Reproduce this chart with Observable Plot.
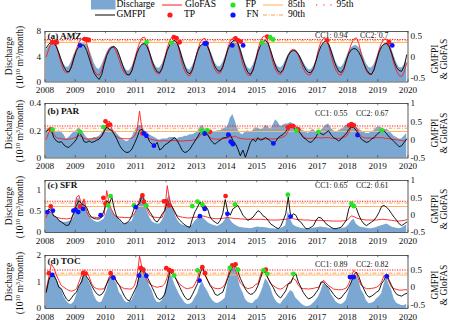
<!DOCTYPE html>
<html><head><meta charset="utf-8">
<script src="https://cdn.jsdelivr.net/npm/d3@7"></script>
<script src="https://cdn.jsdelivr.net/npm/@observablehq/plot@0.6"></script>
<style>
body{margin:0;background:#fff;font-family:"Liberation Serif","Times New Roman",serif;}
#wrap{position:relative;width:450px;height:322px;overflow:hidden;background:#fff;}
.abs{position:absolute;white-space:nowrap;font-size:9.5px;line-height:1;color:#111;}
.rot{transform:translate(-50%,-50%) rotate(-90deg);}
sup{font-size:70%;line-height:0;vertical-align:0.45em;}
.leg{position:absolute;font-size:9.5px;line-height:1;transform:translateY(-50%);white-space:nowrap;}
svg.pl{position:absolute;left:0;}
</style></head><body><div id="wrap"></div>
<script>
// ---------------- DATA ----------------
const yearTicks = [2008,2009,2010,2011,2012,2013,2014,2015,2016,2017,2018,2019,2020];
const basins = ["(a) AMZ","(b) PAR","(c) SFR","(d) TOC"];
const cc1 = ["0.94","0.55","0.65","0.89"];
const cc2 = ["0.7","0.67","0.61","0.82"];

// AMZ monthly (2008-2019): discharge (10^10 m3/month), GMFPI, GloFAS
const amzQ = [
5.0,5.6,6.0,6.2,5.9,5.0,3.8,2.8,2.3,2.4,3.2,4.3,
5.0,5.6,5.9,6.1,6.0,5.3,4.2,3.0,2.2,2.0,2.6,3.6,
4.6,5.3,5.6,5.7,5.3,4.6,3.4,2.4,1.8,1.8,2.4,3.4,
4.6,5.4,5.9,6.1,5.9,5.1,3.9,2.8,2.2,2.2,2.8,3.9,
5.0,5.7,6.2,6.5,6.3,5.6,4.3,3.0,2.1,1.9,2.5,3.5,
4.7,5.5,5.9,6.1,5.9,5.2,4.1,3.0,2.4,2.4,3.0,4.0,
5.0,5.8,6.3,6.6,6.4,5.6,4.3,3.0,2.2,2.0,2.6,3.6,
4.8,5.6,6.1,6.4,6.2,5.4,4.1,3.0,2.4,2.2,2.6,3.5,
4.3,4.8,5.0,5.0,4.6,4.0,3.2,2.5,2.0,1.9,2.4,3.3,
4.6,5.5,6.1,6.4,6.2,5.5,4.3,3.1,2.4,2.3,2.8,3.8,
4.8,5.4,5.7,5.8,5.5,4.9,3.9,2.9,2.3,2.2,2.7,3.7,
4.8,5.6,6.0,6.2,6.0,5.3,4.1,3.0,2.3,2.2,2.7,3.8];
const amzG = [
.21,.30,.345,.33,.24,.09,-.09,-.24,-.345,-.36,-.24,-.03,
.15,.255,.285,.27,.15,-.03,-.225,-.39,-.48,-.54,-.42,-.18,
.03,.15,.225,.24,.18,.03,-.15,-.315,-.42,-.435,-.33,-.12,
.09,.225,.30,.315,.24,.09,-.105,-.255,-.36,-.375,-.27,-.06,
.15,.285,.36,.39,.315,.15,-.06,-.24,-.375,-.405,-.30,-.09,
.12,.255,.30,.315,.24,.09,-.09,-.24,-.33,-.345,-.24,-.045,
.165,.30,.375,.405,.33,.15,-.06,-.24,-.375,-.42,-.315,-.105,
.12,.27,.36,.39,.315,.15,-.045,-.225,-.345,-.375,-.30,-.12,
.03,.12,.15,.135,.06,-.06,-.195,-.315,-.375,-.375,-.285,-.105,
.105,.255,.345,.375,.30,.135,-.06,-.225,-.345,-.375,-.285,-.09,
.075,.165,.195,.18,.105,-.015,-.165,-.30,-.39,-.42,-.315,-.105,
.105,.24,.30,.315,.24,.09,-.105,-.255,-.33,-.345,-.225,.045];
const amzF = [
0,.18,.33,.375,.27,.045,-.18,-.33,-.39,-.36,-.21,0,
.195,.345,.42,.45,.33,.09,-.15,-.33,-.42,-.435,-.33,-.12,
.06,.195,.24,.21,.09,-.09,-.27,-.39,-.435,-.42,-.30,-.06,
.15,.33,.45,.465,.33,.075,-.165,-.33,-.405,-.405,-.27,-.03,
.21,.39,.48,.495,.345,.075,-.18,-.345,-.435,-.45,-.33,-.09,
.15,.33,.42,.435,.30,.06,-.165,-.315,-.39,-.39,-.27,-.03,
.21,.375,.45,.45,.30,.06,-.18,-.345,-.435,-.45,-.33,-.09,
.18,.375,.48,.495,.345,.09,-.15,-.315,-.405,-.42,-.33,-.15,
.03,.15,.18,.15,.03,-.135,-.285,-.39,-.435,-.42,-.30,-.075,
.18,.36,.435,.42,.27,.03,-.18,-.33,-.42,-.435,-.33,-.12,
.12,.30,.42,.45,.315,.06,-.18,-.345,-.42,-.42,-.30,-.06,
.165,.33,.42,.42,.285,.045,-.18,-.345,-.45,-.465,-.36,-.15];
const amzTP = [[2008.24,.345],[2008.32,.34],[2008.39,.34],[2009.31,.42],[2009.38,.41],[2009.45,.40],[2012.26,.465],[2012.35,.44],[2012.45,.345],[2014.3,.435],[2014.38,.39],[2014.47,.36],[2015.35,.48],[2017.33,.39],[2019.37,.345]];
const amzFP = [[2011.36,.345],[2012.18,.33],[2015.18,.33],[2015.44,.465],[2015.54,.41]];
const amzFN = [[2009.16,.27],[2013.28,.315],[2013.34,.315],[2014.19,.27],[2014.55,.27],[2019.48,.27]];
const amzThr = [.34,.38,.41]; // 85th, 90th, 95th

// PAR
const parQ = [
.20,.22,.20,.21,.19,.20,.19,.17,.14,.15,.17,.19,
.20,.22,.20,.18,.15,.14,.14,.15,.15,.16,.18,.21,
.23,.22,.21,.20,.18,.16,.14,.13,.12,.13,.15,.19,
.22,.24,.23,.20,.19,.17,.16,.15,.14,.13,.14,.14,
.14,.15,.15,.15,.14,.15,.15,.16,.16,.17,.17,.18,
.19,.22,.24,.21,.20,.19,.19,.19,.20,.20,.21,.22,
.23,.29,.32,.27,.21,.18,.17,.19,.20,.19,.20,.22,
.22,.21,.21,.24,.23,.21,.24,.28,.26,.23,.24,.25,
.25,.26,.25,.23,.22,.21,.20,.19,.18,.20,.21,.19,
.19,.20,.22,.24,.25,.22,.20,.19,.20,.21,.22,.24,
.24,.26,.25,.23,.21,.20,.19,.18,.18,.19,.20,.22,
.23,.22,.21,.21,.20,.18,.16,.15,.14,.14,.16,.18];
const parG = [
.23,.29,.26,.06,-.03,-.07,-.05,-.14,-.19,-.21,-.14,-.07,
.02,.22,.11,-.05,-.07,-.03,-.07,-.05,-.01,.02,.11,.25,
.35,.29,.25,.15,.02,-.14,-.25,-.32,-.35,-.33,-.25,-.10,
.06,.26,.29,.18,.11,-.05,-.12,-.16,-.07,-.28,-.23,-.14,
-.10,-.05,.02,.06,-.03,-.16,-.30,-.35,-.32,-.25,-.14,-.03,
.08,.20,.22,.23,.15,.02,-.07,-.12,-.05,-.01,.05,.06,
.08,.14,-.01,-.10,-.25,-.44,-.28,-.48,-.28,-.07,.02,-.05,
.06,-.01,.02,.06,.02,-.03,-.10,-.05,.06,.11,.15,.23,
.32,.35,.34,.26,.25,.17,.06,.02,-.05,-.07,-.01,.08,
.22,.17,.14,.20,.25,.14,.06,.02,-.03,.02,.11,.17,
.29,.35,.34,.25,.13,.02,-.03,-.07,-.05,.02,.06,.14,
.20,.26,.25,.17,.08,.02,-.05,-.12,-.19,-.16,-.07,.02];
const parF = [
.02,.20,.29,.15,.06,.04,.03,.02,.01,.02,.03,.05,
.08,.12,.09,.04,.02,.02,.03,.03,.04,.06,.10,.20,
.45,.52,.30,.15,.08,.05,.04,.03,.03,.03,.05,.10,
.25,.79,.28,.12,.06,.03,.01,-.01,-.02,-.03,-.03,-.02,
-.03,-.03,-.02,-.02,-.03,-.03,-.03,-.03,-.02,-.02,-.01,0,
.04,.12,.20,.20,.12,.06,.03,.02,.02,.02,.03,.04,
.05,.07,.08,.10,.06,.04,.03,.02,.02,.02,.02,.03,
.02,.02,.02,.03,.02,.03,.02,.03,.04,.06,.08,.12,
.25,.38,.43,.38,.25,.15,.08,.05,.04,.04,.05,.06,
.06,.05,.06,.06,.06,.05,.04,.04,.04,.05,.07,.10,
.20,.38,.43,.33,.18,.10,.06,.05,.05,.05,.05,.06,
.06,.06,.05,.04,.03,.02,.01,0,-.01,-.02,-.03,.02];
const parTP = [[2008.19,.29],[2010.0,.51],[2010.08,.40],[2010.15,.42],[2011.22,.18],[2013.45,.22],[2016.03,.34],[2016.12,.38],[2016.2,.38],[2016.37,.29],[2018.05,.40],[2018.13,.43],[2018.21,.40]];
const parFP = [[2008.25,.28],[2009.16,.22],[2009.93,.35],[2013.18,.25],[2013.37,.26],[2016.31,.25],[2017.04,.22],[2019.13,.26]];
const parFN = [[2011.27,.18],[2011.35,.11],[2011.6,-.16],[2013.28,.17],[2014.06,.14],[2014.14,-.05],[2014.21,-.12],[2015.55,-.10],[2018.33,.13]];
const parThr = [.23,.32,.38];

// SFR
const sfrQ = [
.48,.50,.44,.40,.34,.30,.26,.24,.24,.26,.28,.36,
.76,.82,.56,.76,.55,.40,.32,.27,.24,.24,.28,.32,
.48,.64,.52,.44,.36,.30,.22,.20,.22,.24,.26,.40,
.56,.76,.84,.72,.50,.36,.26,.22,.20,.20,.28,.40,
.80,.88,.62,.45,.30,.22,.18,.16,.14,.13,.18,.26,
.32,.40,.36,.30,.24,.20,.18,.16,.14,.18,.22,.30,
.40,.30,.22,.18,.14,.12,.11,.10,.10,.09,.10,.12,
.13,.12,.12,.11,.10,.09,.09,.08,.08,.10,.12,.16,
.50,.30,.18,.14,.12,.10,.09,.08,.08,.09,.10,.11,
.12,.13,.12,.11,.10,.09,.09,.08,.08,.09,.10,.12,
.18,.26,.32,.20,.15,.12,.11,.10,.09,.09,.10,.12,
.14,.16,.18,.20,.17,.13,.11,.10,.09,.10,.14,.18];
const sfrG = [
.04,.18,.13,-.02,-.06,-.15,-.20,-.25,-.30,-.28,-.11,.10,
.28,.42,.33,.28,.23,.04,-.06,-.10,-.11,-.11,-.05,.15,
.42,.33,.52,.18,-.06,-.11,-.20,-.25,-.22,-.15,0,.23,
.28,.33,.57,.38,.23,.10,-.01,-.15,-.20,-.10,.04,.13,
.38,.33,.23,.10,-.06,-.15,-.22,-.28,-.33,-.35,-.10,.10,
.23,.38,.20,.28,.18,-.05,-.15,-.20,-.25,-.15,.04,.45,
.10,0,.18,.23,.28,.15,0,-.08,-.15,-.11,-.06,.04,
.13,.08,-.02,-.06,-.15,-.25,-.30,-.35,-.39,-.32,-.15,.04,
.52,-.06,.04,0,-.15,-.20,-.30,-.39,-.39,-.35,-.30,-.15,
-.06,-.08,-.15,-.25,-.30,-.35,-.39,-.39,-.37,-.35,-.25,-.15,
.18,.33,.28,.20,0,-.15,-.25,-.30,-.25,-.20,-.15,-.05,
.08,.25,.28,.23,.15,.04,-.06,-.15,-.25,-.30,-.25,-.20];
const sfrF = [
-.06,.13,.05,-.02,-.06,-.08,-.10,-.10,-.11,-.10,-.08,.05,
.52,.57,.28,.47,.10,-.04,-.06,-.06,-.07,-.07,-.06,0,
.71,.30,.15,0,-.04,-.06,-.06,-.07,-.07,-.07,-.05,.05,
.20,.45,.62,.45,.15,0,-.04,-.06,-.07,-.07,-.06,.15,
.85,.40,.23,.06,-.02,-.04,-.06,-.07,-.08,-.08,-.07,-.06,
-.06,-.03,-.02,-.04,-.06,-.08,-.09,-.10,-.10,-.10,-.09,-.08,
-.06,-.08,-.09,-.10,-.10,-.11,-.11,-.12,-.12,-.12,-.12,-.12,
-.12,-.12,-.12,-.13,-.13,-.14,-.14,-.14,-.14,-.13,-.13,-.12,
-.10,-.05,-.10,-.12,-.13,-.13,-.14,-.14,-.14,-.15,-.15,-.15,
-.15,-.15,-.16,-.16,-.16,-.17,-.17,-.17,-.17,-.17,-.16,-.16,
-.10,-.02,-.04,-.08,-.10,-.12,-.13,-.14,-.14,-.14,-.14,-.14,
-.13,-.12,-.12,-.13,-.14,-.15,-.16,-.17,-.17,-.16,-.15,-.13];
const sfrTP = [[2008.19,.25],[2009.16,.25],[2009.93,.50],[2010.0,.33],[2011.22,.57],[2011.27,.38],[2011.93,.40],[2012.01,.40],[2012.1,.28],[2013.97,.55]];
const sfrFP = [[2010.09,.28],[2010.17,.55],[2010.94,.28],[2011.35,.28],[2012.87,.26],[2013.04,.39],[2013.2,.31],[2014.28,.31],[2016.03,.59],[2018.13,.33],[2018.21,.26]];
const sfrFN = [[2008.08,.09],[2008.26,.13],[2008.94,.13],[2009.01,.15],[2009.1,.09],[2009.26,.18],[2009.84,0],[2011.0,.23],[2013.12,-.03],[2013.28,.18],[2014.03,.04],[2016.12,-.04]];
const sfrThr = [.25,.35,.40];

// TOC
const tocQ = [
.74,1.10,1.25,1.31,1.18,.90,.74,.45,.28,.18,.15,.24,
.49,.75,1.06,1.33,1.25,1.00,.80,.50,.30,.22,.24,.45,
.68,1.06,1.25,1.10,.93,.60,.49,.30,.22,.24,.30,.50,
.80,1.30,1.62,1.50,1.18,.85,.68,.40,.24,.22,.30,.55,
.93,1.37,1.18,.90,.70,.50,.36,.22,.15,.16,.22,.40,
.55,.85,1.00,.80,.65,.45,.30,.22,.19,.24,.30,.40,
.93,1.30,1.56,1.50,1.18,.80,.60,.35,.24,.20,.19,.30,
.36,.55,.80,1.12,1.00,.80,.49,.30,.20,.16,.30,.40,
.55,.68,.60,.40,.30,.20,.12,.08,.08,.11,.20,.30,
.43,.65,.93,.85,.80,.55,.40,.25,.18,.15,.20,.30,
.62,.95,1.18,1.25,1.06,.70,.55,.30,.18,.20,.24,.35,
.43,.55,.90,1.18,.90,.70,.36,.20,.15,.11,.11,.15];
const tocG = [
-.14,.20,.38,.33,.20,0,-.04,-.20,-.33,-.39,-.30,-.20,
-.14,.05,.15,.40,.30,.20,.05,-.08,-.18,-.23,-.20,-.10,
.10,.25,.33,.28,.15,.05,-.10,-.25,-.35,-.39,-.25,-.10,
.05,.38,.57,.45,.30,.15,0,-.15,-.30,-.35,-.30,-.20,
.10,.43,.38,.30,.15,0,-.15,-.28,-.35,-.33,-.20,-.05,
.10,.38,.57,.35,.20,.05,-.05,-.20,-.23,-.18,-.14,.05,
.25,.45,.59,.60,.45,.25,.10,-.05,-.15,-.20,-.18,-.10,
.05,.25,.48,.40,.25,.12,0,-.15,-.25,-.30,-.20,-.10,
.10,.12,.30,.38,.15,0,-.15,-.25,-.33,-.30,-.25,-.15,
-.05,.15,.15,.05,0,-.10,-.20,-.28,-.33,-.30,-.20,-.12,
0,.15,.35,.43,.30,.10,-.05,-.20,-.28,-.25,-.20,-.14,
-.09,.10,.20,.38,.20,.05,-.10,-.20,-.23,-.25,-.20,-.17];
const tocF = [
-.09,.29,.66,.55,.35,.19,.05,0,-.05,-.09,-.11,-.09,
-.04,.15,.35,.49,.45,.30,.10,0,-.04,-.05,-.05,-.04,
.10,.30,.38,.30,.15,.05,0,-.04,-.04,-.05,-.04,.05,
.30,.88,.55,.33,.20,.10,.05,.02,0,.02,.03,.10,
.29,.52,.48,.30,.18,.08,.03,-.02,-.04,-.02,-.01,.10,
.25,.52,.59,.35,.20,.08,0,-.03,-.04,-.03,0,.10,
.30,.60,.66,.50,.30,.12,.05,0,-.04,-.02,0,.08,
.10,.35,.52,.40,.25,.10,.05,0,-.04,-.05,-.02,.05,
.10,.18,.25,.20,.05,-.02,-.04,-.04,-.05,-.04,-.03,-.01,
0,.10,.20,.12,.05,0,-.05,-.06,-.07,-.07,-.05,-.02,
.10,.30,.48,.40,.20,.05,0,-.04,-.04,-.03,-.02,0,
.05,.15,.33,.30,.15,0,-.04,-.06,-.08,-.08,-.07,-.07];
const tocTP = [[2008.13,.40],[2009.26,.40],[2009.34,.38],[2010.17,.40],[2011.16,.54],[2011.25,.50],[2012.01,.54],[2012.1,.49],[2012.19,.46],[2013.2,.57],[2013.29,.40],[2014.19,.62],[2014.3,.65],[2015.3,.50]];
const tocFP = [[2012.27,.33],[2013.04,.48],[2014.11,.55],[2014.38,.50],[2015.22,.48],[2015.35,.38],[2016.21,.38]];
const tocFN = [[2008.24,.35],[2010.26,.27],[2011.11,.33],[2011.35,.33],[2013.11,.19],[2018.08,.29],[2018.15,.29],[2018.21,.29],[2019.3,.31]];
const tocThr = [.35,.40,.49];

// ---------------- STYLE / LAYOUT ----------------
const BLUE="#7ba8d2", RED="#ff1a1a", ORANGE="#ffb56b", ORANGE2="#f59a45", GREEN="#22e622", DBLUE="#0b12ff";
const FONT='"Liberation Serif","Times New Roman",serif';
const W=450, ML=44.5, MR=42.5, MT=6, MB=22;
const panels = [
 {top:30.5,bottom:81, ld:[0,8],   rd:[-0.6,0.6], lt:[0,4,8],       rt:[-0.5,0,0.5],   Q:amzQ,G:amzG,F:amzF,TP:amzTP,FP:amzFP,FN:amzFN,thr:amzThr, ldy:4.5, cdy:4},
 {top:102.5,bottom:157,ld:[0,0.4],rd:[-0.5,1],   lt:[0,0.2,0.4],   rt:[-0.5,0,0.5,1], Q:parQ,G:parG,F:parF,TP:parTP,FP:parFP,FN:parFN,thr:parThr, ldy:7.5, cdy:9.5},
 {top:180,bottom:232, ld:[0,1.23],rd:[-0.5,1],   lt:[0,0.5,1],     rt:[-0.5,0,0.5,1], Q:sfrQ,G:sfrG,F:sfrF,TP:sfrTP,FP:sfrFP,FN:sfrFN,thr:sfrThr, ldy:5, cdy:4.5},
 {top:255,bottom:308, ld:[0,2],   rd:[-0.6,0.9], lt:[0,1,2],       rt:[-0.5,0,0.5],   Q:tocQ,G:tocG,F:tocF,TP:tocTP,FP:tocFP,FN:tocFN,thr:tocThr, ldy:6, cdy:9}
];

const wrap = document.getElementById("wrap");
const monthly = arr => arr.map((v,i)=>({t:2008+(i+0.5)/12, v}));

panels.forEach((p,k)=>{
  const toL = r => p.ld[0] + (r-p.rd[0])/(p.rd[1]-p.rd[0])*(p.ld[1]-p.ld[0]);
  const q = monthly(p.Q), g = monthly(p.G), f = monthly(p.F);
  const h = (p.bottom-p.top)+MT+MB;
  const tickLen = (p.ld[1]-p.ld[0])*0.045;
  const chart = Plot.plot({
    width:W, height:h, marginLeft:ML, marginRight:MR, marginTop:MT, marginBottom:MB,
    x:{domain:[2008,2020]}, y:{domain:p.ld},
    style:{fontFamily:FONT, fontSize:"9.2px", background:"transparent", color:"#111", overflow:"visible"},
    marks:[
      Plot.areaY(q,{x:"t", y:"v", fill:BLUE}),
      Plot.ruleY([p.thr[0]],{y:toL, stroke:ORANGE, strokeWidth:1.1}),
      Plot.ruleY([p.thr[1]],{y:toL, stroke:ORANGE2, strokeWidth:0.9, strokeDasharray:"4,1.5,1,1.5"}),
      Plot.ruleY([p.thr[2]],{y:toL, stroke:RED, strokeWidth:1.1, strokeDasharray:"1.2,1.3"}),
      Plot.line(f,{x:"t", y:d=>toL(d.v), stroke:RED, strokeWidth:0.9}),
      Plot.line(g,{x:"t", y:d=>toL(d.v), stroke:"#000", strokeWidth:0.9}),
      Plot.dot(p.TP,{x:d=>d[0], y:d=>toL(d[1]), r:2.4, fill:RED}),
      Plot.dot(p.FP,{x:d=>d[0], y:d=>toL(d[1]), r:2.4, fill:GREEN}),
      Plot.dot(p.FN,{x:d=>d[0], y:d=>toL(d[1]), r:2.4, fill:DBLUE}),
      Plot.ruleX(yearTicks,{y1:p.ld[0], y2:p.ld[0]+tickLen, stroke:"#333", strokeWidth:0.6}),
      Plot.ruleX(yearTicks,{y1:p.ld[1], y2:p.ld[1]-tickLen, stroke:"#333", strokeWidth:0.6}),
      Plot.frame({stroke:"#333", strokeWidth:0.8}),
      Plot.axisX({ticks:yearTicks, tickFormat:d=>String(d), tickSize:0, tickPadding:4.5, label:null}),
      Plot.axisY({ticks:p.lt, tickFormat:d=>String(d), tickSize:0, tickPadding:4, label:null}),
      Plot.text(p.rt,{x:2020, y:toL, text:d=>String(d), textAnchor:"start", dx:2.5}),
      Plot.text([basins[k]],{x:2008, y:p.ld[1], dx:2.5, dy:p.ldy, textAnchor:"start", fontWeight:"bold", lineAnchor:"middle"}),
      Plot.text(["CC1: "+cc1[k]],{x:2020, y:p.ld[1], dx:-60.5, dy:p.cdy, textAnchor:"end", lineAnchor:"middle", fontSize:7.9}),
      Plot.text(["CC2: "+cc2[k]],{x:2020, y:p.ld[1], dx:-19.5, dy:p.cdy, textAnchor:"end", lineAnchor:"middle", fontSize:7.9})
    ]
  });
  chart.classList.add("pl");
  chart.style.top = (p.top-MT)+"px";
  wrap.appendChild(chart);
  const yc = (p.top+p.bottom)/2;
  const add = (html,x,y,cls) => { const d=document.createElement("div"); d.className="abs "+cls; d.innerHTML=html; d.style.left=x+"px"; d.style.top=y+"px"; wrap.appendChild(d); };
  add("Discharge", 9.5, yc, "rot");
  add("(10<sup>10</sup> m<sup>3</sup>/month)", 21, yc+1, "rot");
  add("GMFPI", 435.5, yc+3, "rot");
  add("&amp; GloFAS", 445, yc+3, "rot");
});

// ---------------- LEGEND ----------------
function legItem(svgInner, sx, sw, label, lx, y){
  const s = document.createElementNS("http://www.w3.org/2000/svg","svg");
  s.setAttribute("width", sw); s.setAttribute("height", 10);
  s.style.position="absolute"; s.style.left=sx+"px"; s.style.top=(y-5)+"px";
  s.innerHTML = svgInner; wrap.appendChild(s);
  const d=document.createElement("div"); d.className="leg"; d.textContent=label;
  d.style.left=lx+"px"; d.style.top=y+"px"; wrap.appendChild(d);
}
legItem(`<rect x="0" y="0" width="24.5" height="9.5" fill="${BLUE}"/>`, 90.5, 25, "Discharge", 116.5, 5);
legItem(`<line x1="0" x2="20" y1="5" y2="5" stroke="${RED}" stroke-width="1"/>`, 161.5, 20, "GloFAS", 185, 5);
legItem(`<circle cx="5" cy="5" r="2.6" fill="${GREEN}"/>`, 228, 10, "FP", 245.5, 5);
legItem(`<line x1="0" x2="20" y1="5" y2="5" stroke="${ORANGE}" stroke-width="1.1"/>`, 263, 20, "85th", 288, 5);
legItem(`<line x1="0" x2="18" y1="5" y2="5" stroke="${RED}" stroke-width="1.1" stroke-dasharray="1.2,6"/>`, 316, 18, "95th", 336.5, 5);
legItem(`<line x1="0" x2="20" y1="5" y2="5" stroke="#000" stroke-width="1"/>`, 95, 20, "GMFPI", 116.5, 15);
legItem(`<circle cx="5" cy="5" r="2.6" fill="${RED}"/>`, 165, 10, "TP", 184, 15);
legItem(`<circle cx="5" cy="5" r="2.6" fill="${DBLUE}"/>`, 228, 10, "FN", 246.5, 15);
legItem(`<line x1="0" x2="20" y1="5" y2="5" stroke="${ORANGE2}" stroke-width="0.9" stroke-dasharray="4,1.5,1,1.5"/>`, 263, 20, "90th", 288, 15);
</script></body></html>
